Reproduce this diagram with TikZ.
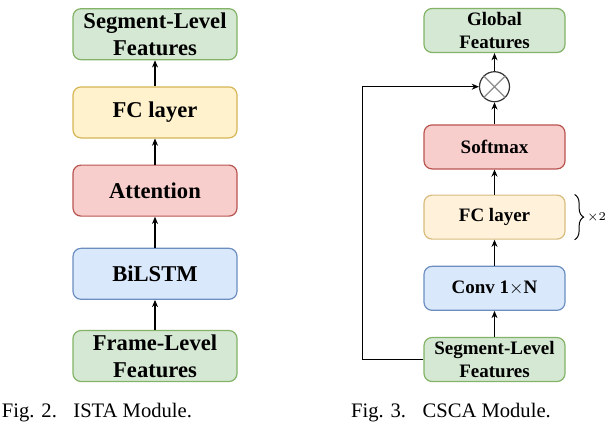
\documentclass[tikz,border=0pt]{standalone}
\usepackage{fontspec}
\setmainfont{Liberation Serif}
\usepackage{xcolor}
\usetikzlibrary{arrows.meta,positioning,decorations.pathreplacing}

\definecolor{featfill}{HTML}{D5E8D4}
\definecolor{featline}{HTML}{82B366}
\definecolor{fcfill}{HTML}{FFF2CC}
\definecolor{fcline}{HTML}{D6B656}
\definecolor{fcfillb}{HTML}{FFF1DA}
\definecolor{fclineb}{HTML}{D8BC7E}
\definecolor{attfill}{HTML}{F8CECC}
\definecolor{attline}{HTML}{B85450}
\definecolor{lstmfill}{HTML}{DAE8FC}
\definecolor{lstmline}{HTML}{6C8EBF}

\begin{document}
\begin{tikzpicture}[>={Stealth[length=3.6pt,width=3pt]},
    blockL/.style={draw, rounded corners=4pt, line width=0.6pt, align=center, inner sep=1pt,
        minimum width=82pt, minimum height=25.5pt, font=\bfseries\fontsize{11.3}{13.5}\selectfont},
    blockR/.style={draw, rounded corners=4pt, line width=0.6pt, align=center, inner sep=1pt,
        minimum width=70.5pt, minimum height=22pt, font=\bfseries\fontsize{9.5}{11.5}\selectfont},
    feat/.style={fill=featfill, draw=featline},
    fc/.style={fill=fcfill, draw=fcline},
    att/.style={fill=attfill, draw=attline},
    lstm/.style={fill=lstmfill, draw=lstmline},
    arr/.style={->, line width=0.55pt},
    caption/.style={font=\fontsize{10.3}{12}\selectfont, inner sep=0pt}]
    \useasboundingbox (0,0) rectangle (307pt,-217.5pt);

    % ISTA module
    \node[blockL, feat] (frame) at (77.5pt,-178pt) {Frame-Level\\Features};
    \node[blockL, lstm, above=15pt of frame] (bilstm) {BiLSTM};
    \node[blockL, att, above=15.5pt of bilstm] (attn) {Attention};
    \node[blockL, fc, above=13pt of attn] (fcA) {FC layer};
    \node[blockL, feat, above=13pt of fcA] (segA) {Segment-Level\\Features};

    \draw[arr] (frame) -- (bilstm);
    \draw[arr] (bilstm) -- (attn);
    \draw[arr] (attn) -- (fcA);
    \draw[arr] (fcA) -- (segA);

    \node[caption, anchor=west] (capA) at (0.8pt,-206.5pt) {Fig. 2.\hspace{0.8em}ISTA Module.};

    % CSCA module
    \node[blockR, feat] (segB) at (247.25pt,-179.75pt) {Segment-Level\\Features};
    \node[blockR, lstm, above=13pt of segB] (conv) {Conv 1$\times$N};
    \node[blockR, fill=fcfillb, draw=fclineb, above=13pt of conv] (fcB) {FC layer};
    \node[blockR, att, above=12.5pt of fcB] (soft) {Softmax};
    \node[draw=black!80, fill=white, circle, line width=0.6pt, minimum size=15pt, inner sep=0pt,
        above=11pt of soft] (mul) {};
    \draw[black!45, line width=0.6pt] (mul.45) -- (mul.225) (mul.135) -- (mul.315);
    \node[blockR, feat, above=9pt of mul] (glob) {Global\\Features};

    \draw[arr] (segB) -- (conv);
    \draw[arr] (conv) -- (fcB);
    \draw[arr] (fcB) -- (soft);
    \draw[arr] (soft) -- (mul);
    \draw[arr] (mul) -- (glob);
    \draw[arr] (segB.west) -- ++(-30.5pt,0) |- (mul.west);

    % repeat brace
    \draw[line width=0.5pt, decorate, decoration={brace, amplitude=4.5pt, raise=4.5pt}]
        (fcB.north east) -- (fcB.south east);
    \node[right=10.5pt of fcB.east, inner sep=0pt, font=\fontsize{6.5}{7}\selectfont] (rep) {$\times 2$};

    \node[caption] (capB) at (225.5pt,-206.5pt) {Fig. 3.\hspace{0.8em}CSCA Module.};
\end{tikzpicture}
\end{document}
